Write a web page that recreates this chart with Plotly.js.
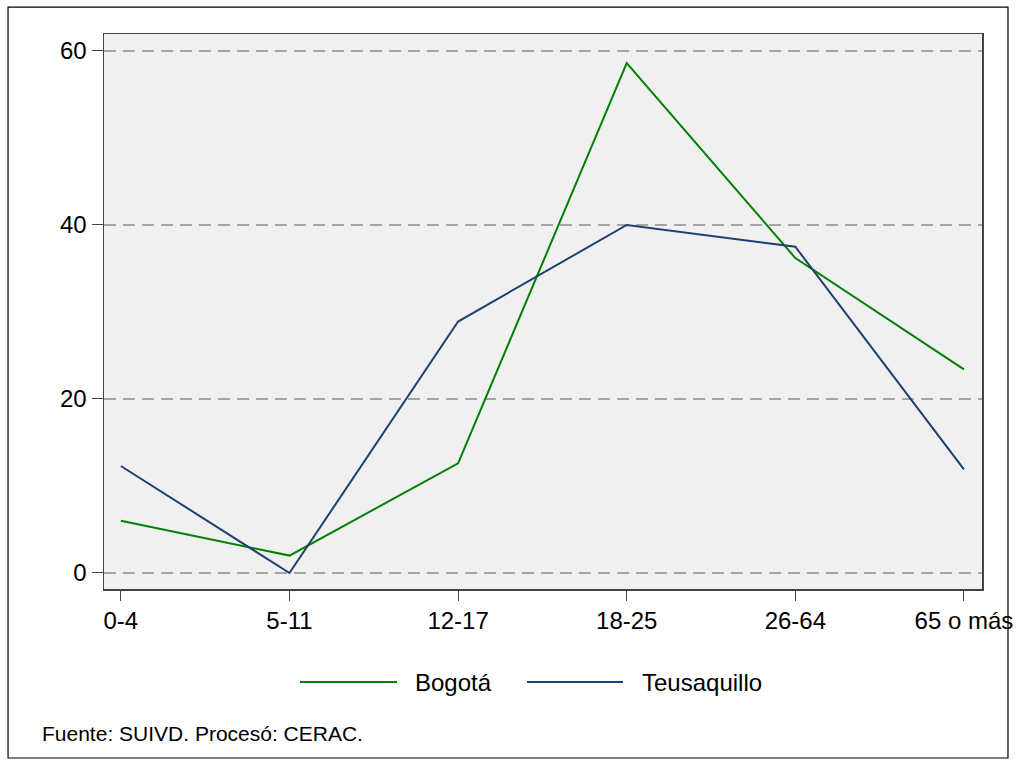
<!DOCTYPE html>
<html>
<head>
<meta charset="utf-8">
<script src="https://cdn.plot.ly/plotly-3.0.1.min.js"></script>
<style>
	html, body { margin: 0; padding: 0; background: #ffffff; }
	#chart { width: 1021px; height: 765px; }
</style>
</head>
<body>
<div id="chart"></div>
<script>
var grupos = ["0-4", "5-11", "12-17", "18-25", "26-64", "65 o más"];
var bogota = [6.0, 2.0, 12.6, 58.6, 36.2, 23.4];
var teusaquillo = [12.3, 0, 28.9, 40.0, 37.5, 11.9];
var nombres = ["Bogotá", "Teusaquillo"];
var colores = ["#008000", "#1f3f6e"];
var fuente = "Fuente: SUIVD. Procesó: CERAC.";

var linewidth = 2;

var trace_b = {
	mode: "lines",
	x: grupos,
	y: bogota,
	name: nombres[0],
	line: { color: colores[0], width: linewidth }
};

var trace_t = {
	mode: "lines",
	x: grupos,
	y: teusaquillo,
	name: nombres[1],
	line: { color: colores[1], width: linewidth }
};

var layout = {
	width: 1021,
	height: 765,
	paper_bgcolor: "#ffffff",
	plot_bgcolor: "#f0f0f0",
	font: { family: "Liberation Sans, Arial, sans-serif", size: 24, color: "#000000" },
	showlegend: false,
	margin: { l: 104, r: 39, t: 34, b: 176, pad: 0 },
	xaxis: {
		type: "category",
		range: [-0.1, 5.107],
		showgrid: false,
		zeroline: false,
		showline: true,
		mirror: true,
		linecolor: "#444444",
		linewidth: 1.5,
		ticks: "outside",
		ticklen: 10,
		tickcolor: "#444444",
		tickwidth: 1,
		tickfont: { size: 24 }
	},
	yaxis: {
		range: [-1.84, 61.95],
		tickvals: [0, 20, 40, 60],
		showgrid: true,
		gridcolor: "#a4a4a4",
		gridwidth: 1.5,
		griddash: "12px,7px",
		zeroline: false,
		showline: true,
		mirror: true,
		linecolor: "#444444",
		linewidth: 1.5,
		ticks: "outside",
		ticklen: 11,
		tickcolor: "#444444",
		tickwidth: 1,
		tickfont: { size: 24 }
	},
	shapes: [
		// outer frame
		{ type: "rect", xref: "paper", yref: "paper", x0: -0.1093, x1: 1.0296, y0: -0.3045, y1: 1.0486,
			line: { color: "#000000", width: 1.2 } },
		// legend samples
		{ type: "line", xref: "paper", yref: "paper", x0: 0.2232, x1: 0.3337, y0: -0.1676, y1: -0.1676,
			line: { color: colores[0], width: 2 } },
		{ type: "line", xref: "paper", yref: "paper", x0: 0.4818, x1: 0.5911, y0: -0.1676, y1: -0.1676,
			line: { color: colores[1], width: 2 } }
	],
	annotations: [
		{ xref: "paper", yref: "paper", x: 0.3519, y: -0.1676, xanchor: "left", yanchor: "middle",
			text: nombres[0], showarrow: false, font: { size: 24 } },
		{ xref: "paper", yref: "paper", x: 0.6105, y: -0.1676, xanchor: "left", yanchor: "middle",
			text: nombres[1], showarrow: false, font: { size: 24 } },
		{ xref: "paper", yref: "paper", x: -0.0729, y: -0.2595, xanchor: "left", yanchor: "middle",
			text: fuente, showarrow: false, font: { size: 21 } }
	]
};

Plotly.newPlot("chart", [trace_b, trace_t], layout, { displayModeBar: false, staticPlot: true });
</script>
</body>
</html>
